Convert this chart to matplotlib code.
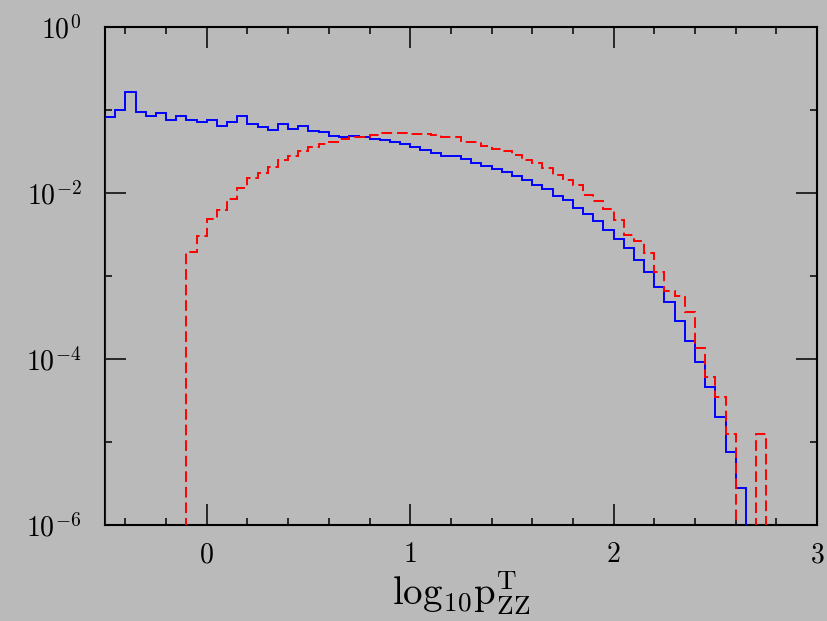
import numpy as np
import matplotlib
matplotlib.use("Agg")
import matplotlib.pyplot as plt
from matplotlib.ticker import FixedLocator, NullFormatter

# histogram bins: log10 pT from -0.5 to 3 in steps of 0.05
bin_edges = np.linspace(-0.5, 3.0, 71)

# log10 of bin contents (nan = empty bin)
blue_log = [
    -1.08, -1.00, -0.78, -1.03, -1.07, -1.036, -1.12, -1.07, -1.12, -1.15,
    -1.117, -1.19, -1.15, -1.076, -1.17, -1.20, -1.245, -1.17, -1.225, -1.197,
    -1.253, -1.26, -1.31, -1.325, -1.313, -1.329, -1.349, -1.365, -1.39, -1.41,
    -1.442, -1.482, -1.52, -1.55, -1.56, -1.594, -1.64, -1.675, -1.707, -1.75,
    -1.795, -1.843, -1.91, -1.955, -2.04, -2.09, -2.177, -2.257, -2.34, -2.446,
    -2.558, -2.667, -2.807, -2.948, -3.129, -3.317, -3.54, -3.779, -4.032, -4.333,
    -4.703, -5.116, -5.55, np.nan, np.nan, np.nan, np.nan, np.nan, np.nan, np.nan,
]
red_log = [
    np.nan, np.nan, np.nan, np.nan, np.nan, np.nan, np.nan, np.nan, -2.707, -2.518,
    -2.313, -2.205, -2.078, -1.938, -1.82, -1.755, -1.693, -1.60, -1.554, -1.50,
    -1.45, -1.41, -1.38, -1.35, -1.33, -1.32, -1.30, -1.28, -1.277, -1.28,
    -1.29, -1.293, -1.305, -1.33, -1.33, -1.38, -1.39, -1.434, -1.47, -1.494,
    -1.542, -1.60, -1.643, -1.70, -1.783, -1.843, -1.90, -2.02, -2.10, -2.197,
    -2.325, -2.506, -2.574, -2.727, -2.948, -3.177, -3.237, -3.44, -3.87, -4.213,
    -4.454, -4.908, np.nan, np.nan, -4.908, np.nan, np.nan, np.nan, np.nan, np.nan,
]

x_ticks = [0, 1, 2, 3]
x_ticklabels = ["$0$", "$1$", "$2$", "$3$"]
y_ticks = [1e-6, 1e-4, 1e-2, 1e0]
y_ticklabels = ["$10^{-6}$", "$10^{-4}$", "$10^{-2}$", "$10^{0}$"]

bg = "#bababa"
plt.rcParams["mathtext.fontset"] = "cm"


def to_counts(vals):
    v = np.array(vals, dtype=float)
    out = 10.0 ** v
    out[np.isnan(v)] = 1e-12
    return out


fig = plt.figure(figsize=(8.27, 6.21), dpi=100, facecolor=bg)
ax = fig.add_axes([0.127, 0.1546, 0.861, 0.802], facecolor=bg)

ax.stairs(to_counts(blue_log), bin_edges, baseline=1e-12, color="#0000ff",
          lw=1.4, zorder=3)
ax.stairs(to_counts(red_log), bin_edges, baseline=1e-12, color="#ff0000",
          lw=1.4, linestyle=(0, (5.5, 2.5)), zorder=3)

ax.set_yscale("log")
ax.set_xlim(-0.5, 3.0)
ax.set_ylim(1e-6, 1.0)

ax.xaxis.set_major_locator(FixedLocator(x_ticks))
ax.xaxis.set_minor_locator(FixedLocator(np.arange(-0.4, 3.0, 0.2)))
ax.set_xticklabels(x_ticklabels)
ax.yaxis.set_major_locator(FixedLocator(y_ticks))
ax.yaxis.set_minor_locator(FixedLocator([1e-5, 1e-3, 1e-1]))
ax.yaxis.set_minor_formatter(NullFormatter())
ax.set_yticklabels(y_ticklabels)

ax.tick_params(which="both", direction="in", top=True, right=True,
               width=1.1, colors="black")
ax.tick_params(which="major", length=15, labelsize=20)
ax.tick_params(axis="x", which="major", pad=11)
ax.tick_params(axis="y", which="major", pad=17)
ax.tick_params(which="minor", length=5)
for s in ax.spines.values():
    s.set_linewidth(1.5)

ax.set_xlabel(r"$\mathrm{log}_{10}\mathrm{p}^{\mathrm{T}}_{\mathrm{ZZ}}$",
              fontsize=28, labelpad=1)

fig.savefig("out.png", dpi=100, facecolor=bg)
